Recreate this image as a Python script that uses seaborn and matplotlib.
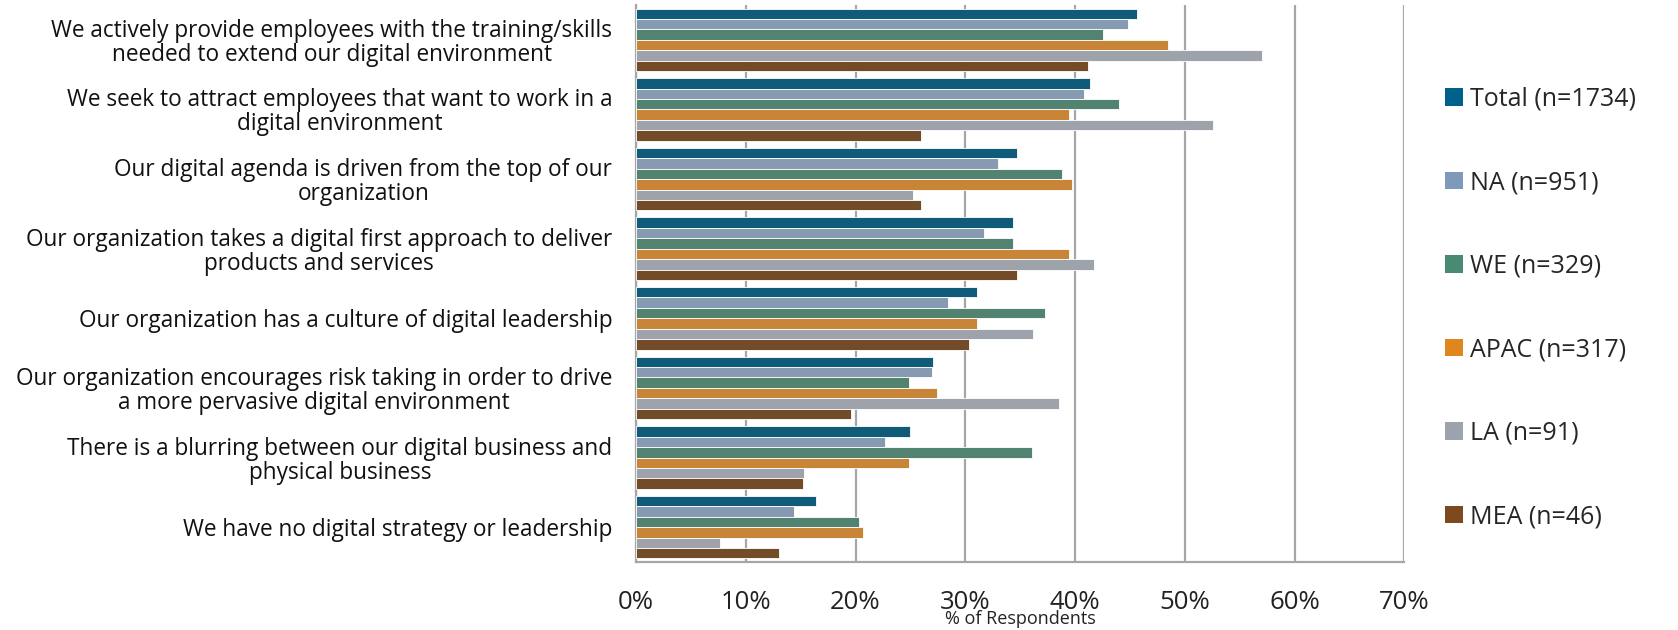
import numpy as np
import pandas as pd
import seaborn as sns
import matplotlib.pyplot as plt
from matplotlib.patches import Patch

statements = [
    "We actively provide employees with the training/skills\nneeded to extend our digital environment",
    "We seek to attract employees that want to work in a\ndigital environment",
    "Our digital agenda is driven from the top of our\norganization",
    "Our organization takes a digital first approach to deliver\nproducts and services",
    "Our organization has a culture of digital leadership",
    "Our organization encourages risk taking in order to drive\na more pervasive digital environment",
    "There is a blurring between our digital business and\nphysical business",
    "We have no digital strategy or leadership",
]
regions = ["Total (n=1734)", "NA (n=951)", "WE (n=329)", "APAC (n=317)", "LA (n=91)", "MEA (n=46)"]

total = [45.6, 41.4, 34.7, 34.3, 31.1, 27.1, 25.0, 16.4]
na = [44.8, 40.8, 33.0, 31.7, 28.4, 27.0, 22.7, 14.4]
we = [42.5, 44.0, 38.8, 34.3, 37.3, 24.9, 36.1, 20.3]
apac = [48.5, 39.4, 39.7, 39.4, 31.1, 27.4, 24.9, 20.7]
la = [57.0, 52.6, 25.2, 41.7, 36.2, 38.5, 15.3, 7.7]
mea = [41.2, 26.0, 26.0, 34.7, 30.3, 19.6, 15.2, 13.0]

colors = ["#00628B", "#7F9AB8", "#4A8A72", "#E0861F", "#9CA3AD", "#7E4A1D"]

rows = []
for reg, vals in zip(regions, [total, na, we, apac, la, mea]):
    for s, v in zip(statements, vals):
        rows.append({"statement": s, "region": reg, "pct": v})
df = pd.DataFrame(rows)

sns.set_style("white")
plt.rcParams["font.family"] = ["Open Sans", "DejaVu Sans"]

fig = plt.figure(figsize=(16.78, 6.3), dpi=100)
ax = fig.add_axes([0.379, 0.108, 0.458, 0.884])

sns.barplot(
    data=df, y="statement", x="pct", hue="region",
    order=statements, hue_order=regions, palette=colors,
    orient="h", width=0.9, edgecolor="white", linewidth=0.6,
    legend=False, ax=ax, zorder=3,
)

ax.set_xlim(0, 70)
ax.set_xticks(np.arange(0, 71, 10))
ax.set_xticklabels([f"{t}%" for t in range(0, 71, 10)], fontsize=18.5)
ax.tick_params(axis="x", length=0, pad=20, colors="#222222")
ax.tick_params(axis="y", length=0, pad=17)
for lbl in ax.get_yticklabels():
    lbl.set_fontsize(16.3)
    lbl.set_multialignment("center")
    lbl.set_linespacing(1.0)
    lbl.set_color("#111111")

ax.grid(axis="x", color="#A6A6A6", linewidth=1.6, zorder=0)
ax.grid(axis="y", visible=False)
ax.set_axisbelow(True)
for side in ["top", "right"]:
    ax.spines[side].set_visible(False)
for side in ["left", "bottom"]:
    ax.spines[side].set_color("#A6A6A6")
    ax.spines[side].set_linewidth(1.6)

ax.set_ylabel("")
ax.set_xlabel("% of Respondents", fontsize=13, color="#222222", va="center")
ax.xaxis.set_label_coords(0.5, -0.103)

handles = [Patch(facecolor=c, edgecolor="none") for c in colors]
fig.legend(handles, regions, loc="upper left", bbox_to_anchor=(0.848, 0.898),
           frameon=False, fontsize=18, labelspacing=2.34,
           handlelength=0.7, handleheight=0.7, handletextpad=0.3)

fig.savefig("out.png", dpi=100)
